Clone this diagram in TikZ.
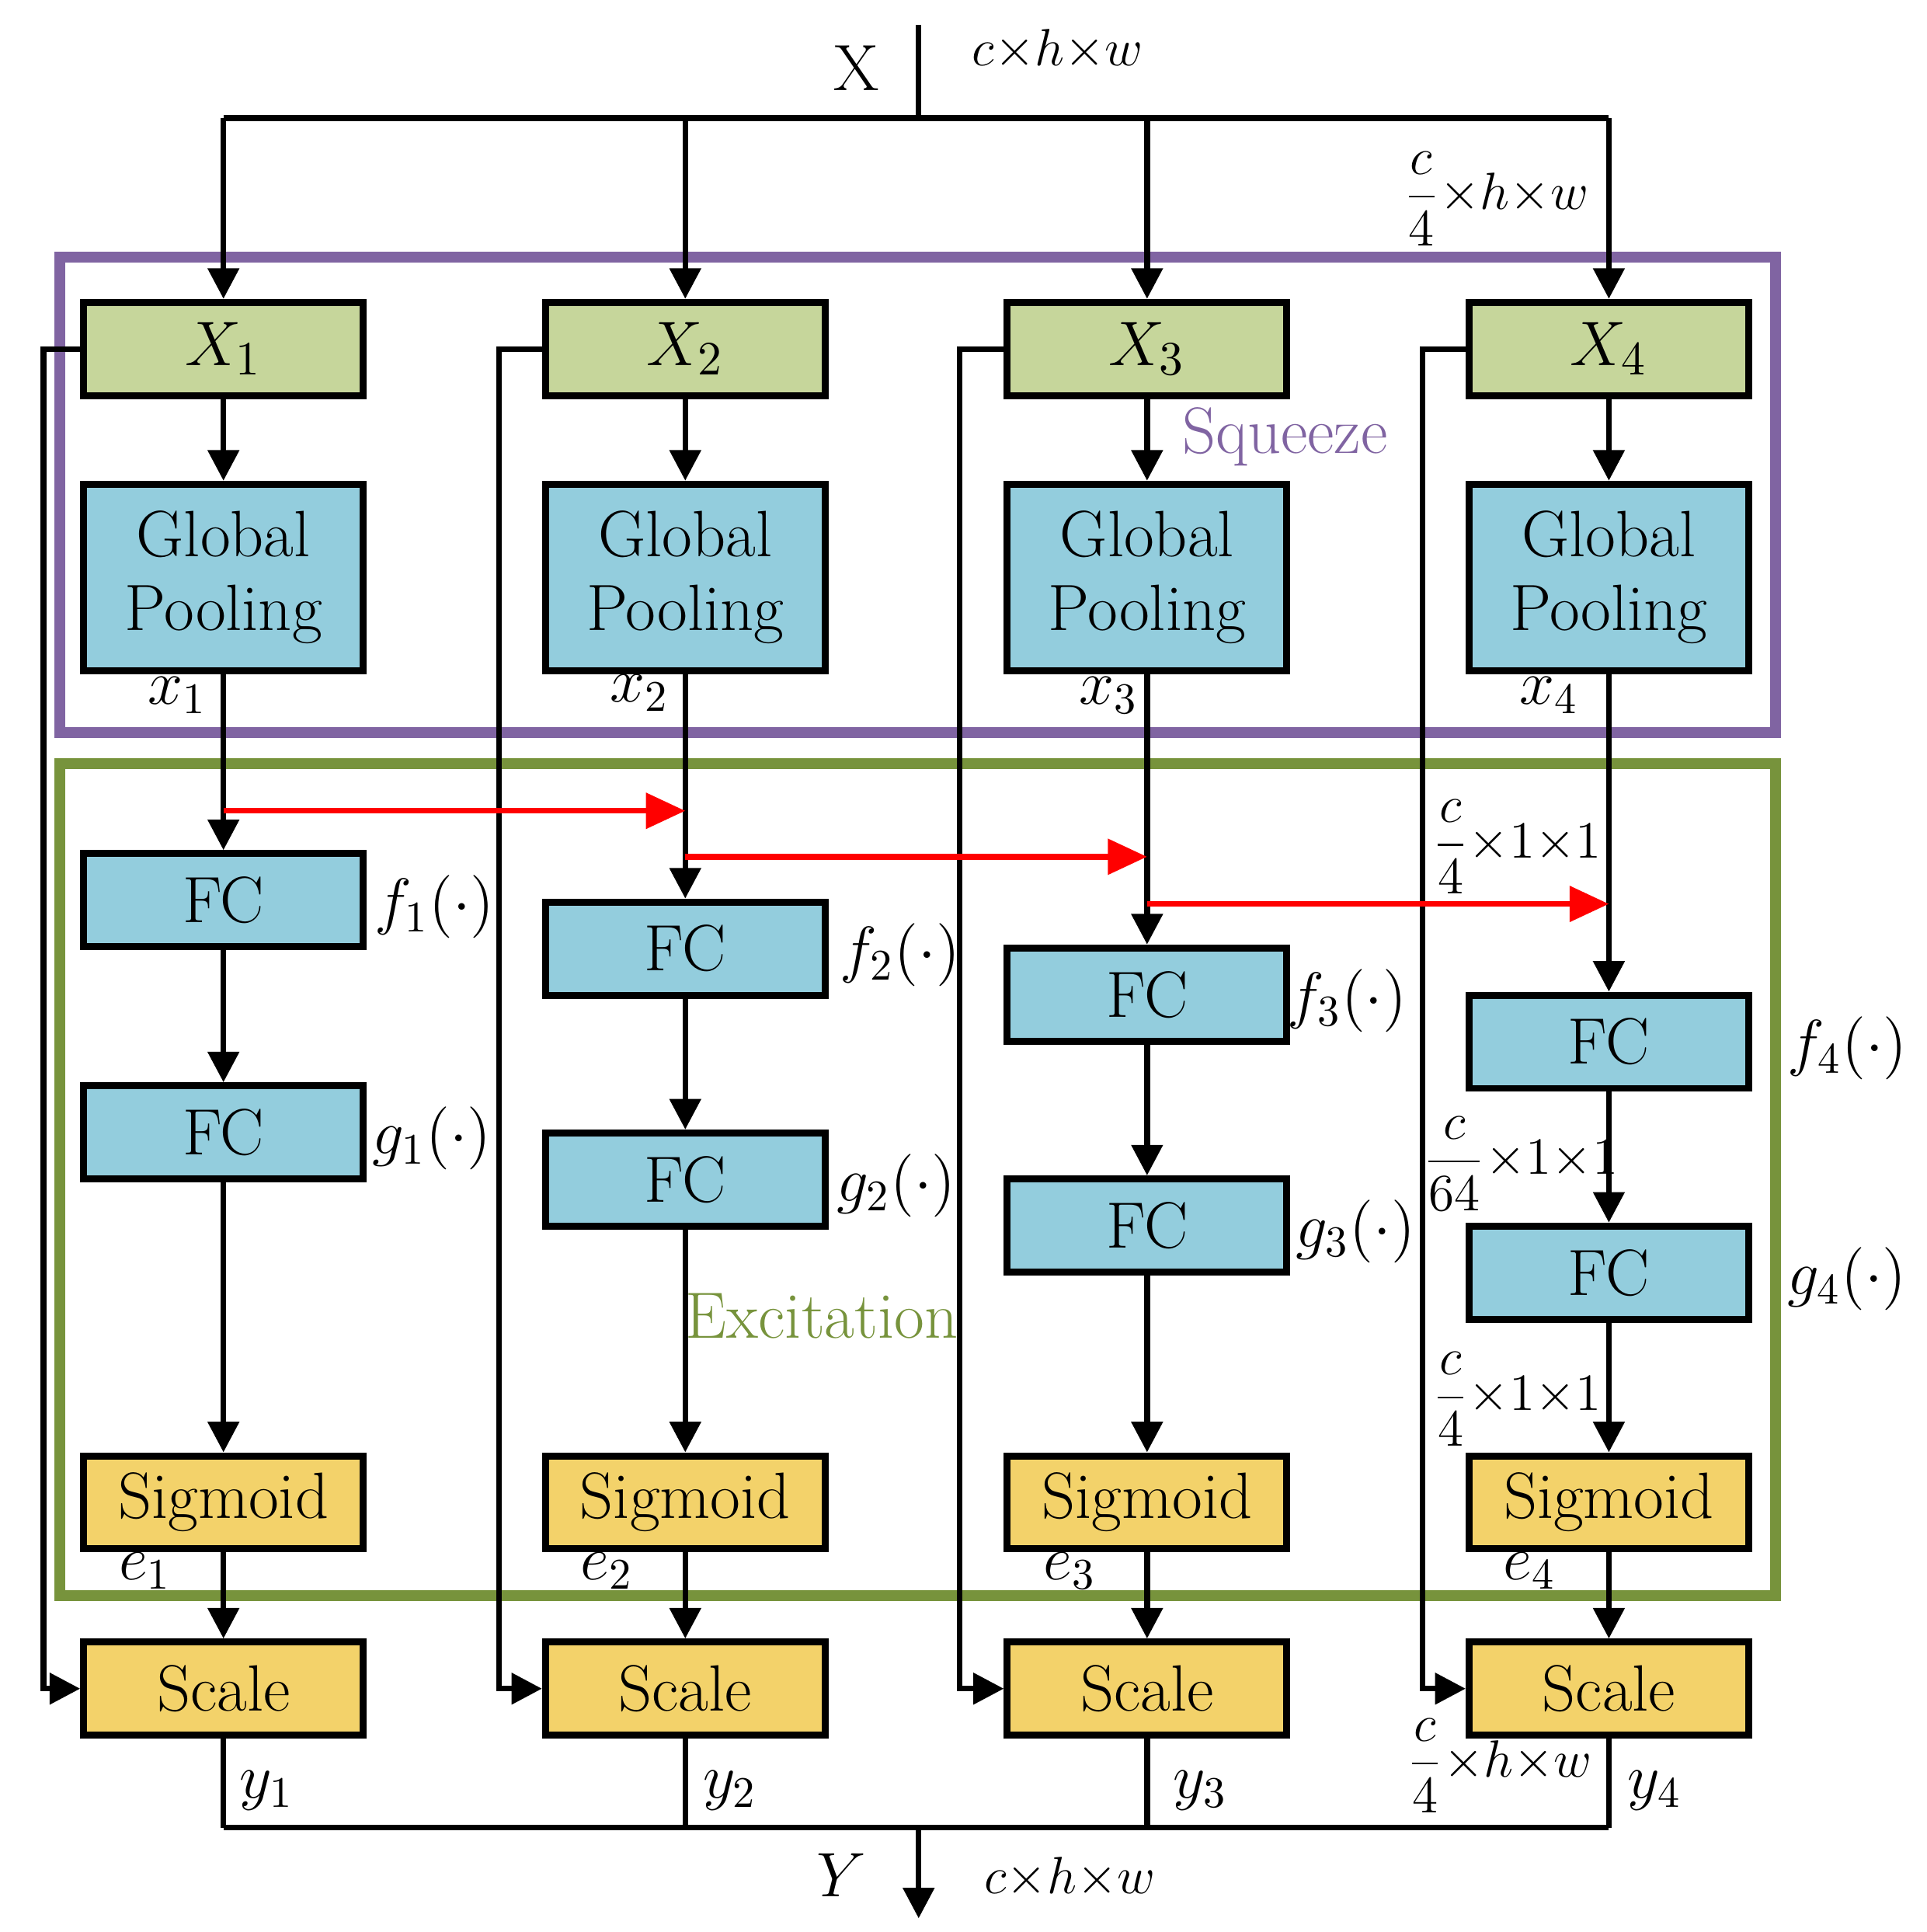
\documentclass[tikz,border=0pt]{standalone}
\usetikzlibrary{arrows.meta}
\begin{document}
\begin{tikzpicture}[x=0.01cm,y=-0.01cm,
  font=\fontsize{15}{17}\selectfont,
  box/.style={draw=black,line width=1.6pt,minimum width=2.25cm,minimum height=0.75cm,inner sep=0pt,align=center},
  xb/.style={box,fill=xgreen},
  bb/.style={box,fill=pblue},
  yb/.style={box,fill=syell},
  ar/.style={line width=1.3pt,-{Triangle[length=7pt,width=7pt]}},
  ln/.style={line width=1.3pt},
  rar/.style={line width=1.3pt,red,-{Triangle[length=9pt,width=8pt]}},
  lab/.style={font=\fontsize{14}{16}\selectfont},
  dim/.style={font=\fontsize{13}{15}\selectfont,inner sep=1pt}]
\definecolor{xgreen}{HTML}{C6D69B}
\definecolor{pblue}{HTML}{93CDDD}
\definecolor{syell}{HTML}{F3D26A}
\definecolor{sqz}{HTML}{8064A2}
\definecolor{exc}{HTML}{77933C}
\path[use as bounding box] (0,0) rectangle (1552,1556);
% frames
\draw[sqz,line width=2.5pt] (48,207) rectangle (1430,590);
\draw[exc,line width=2.5pt] (48,615) rectangle (1430,1285);
\node[sqz] at (1035,352) {Squeeze};
\node[exc] at (662,1060) {Excitation};
% top
\coordinate (xtop) at (740,20);
\coordinate (xsplit) at (740,95);
\draw[ln] (xtop) -- (xsplit);
\node at (690,55) {X};
\node[dim] at (852,40) {$c{\times}h{\times}w$};
\node[dim] at (1205,160) {$\displaystyle\frac{c}{4}{\times}h{\times}w$};
\draw[ln] (180,95) -- (1296,95);
% columns
\foreach \i/\cx/\fa/\fb/\sk/\fl/\gl in {1/180/725/912/35/350/348, 2/552/764/950/402/725/722, 3/924/801/987/773/1085/1092, 4/1296/839/1025/1146/1488/1488}{
  \node[xb] (X\i) at (\cx,281) {$X_{\scriptstyle\i}$};
  \node[bb,minimum height=1.5cm] (G\i) at (\cx,465) {Global\\Pooling};
  \node[bb] (F\i) at (\cx,\fa) {FC};
  \node[bb] (H\i) at (\cx,\fb) {FC};
  \node[yb] (S\i) at (\cx,1210) {Sigmoid};
  \node[yb] (C\i) at (\cx,1360) {Scale};
  \draw[ar] (\cx,95) -- (X\i);
  \draw[ar] (X\i) -- (G\i);
  \draw[ar] (G\i) -- (F\i);
  \draw[ar] (F\i) -- (H\i);
  \draw[ar] (H\i) -- (S\i);
  \draw[ar] (S\i) -- (C\i);
  \coordinate (k\i) at (\sk,281);
  \coordinate (kb\i) at (\sk,1360);
  \draw[ar] (X\i.west) -- (k\i) -- (kb\i) -- (C\i.west);
  \draw[ln] (C\i.south) -- (\cx,1472);
  \node[lab] at (\fl,\fa+5) {$f_{\scriptstyle\i}(\cdot)$};
  \node[lab] at (\gl,\fb+5) {$g_{\scriptstyle\i}(\cdot)$};
}
\node[lab] at (143,560) {$x_{\scriptstyle 1}$};
\node[lab] at (515,558) {$x_{\scriptstyle 2}$};
\node[lab] at (893,560) {$x_{\scriptstyle 3}$};
\node[lab] at (1248,560) {$x_{\scriptstyle 4}$};
\foreach \i/\ex/\yx in {1/117/215,2/489/588,3/862/967,4/1232/1333}{
  \node[lab] at (\ex,1265) {$e_{\scriptstyle\i}$};
  \node[lab] at (\yx,1442) {$y_{\scriptstyle\i}$};
}
% red arrows
\coordinate (r1) at (180,653); \coordinate (r1e) at (552,653);
\coordinate (r2) at (552,690); \coordinate (r2e) at (924,690);
\coordinate (r3) at (924,728); \coordinate (r3e) at (1296,728);
\draw[rar] (r1) -- (r1e);
\draw[rar] (r2) -- (r2e);
\draw[rar] (r3) -- (r3e);
% dims
\node[dim] at (1222,682) {$\displaystyle\frac{c}{4}{\times}1{\times}1$};
\node[dim] at (1225,937) {$\displaystyle\frac{c}{64}{\times}1{\times}1$};
\node[dim] at (1222,1127) {$\displaystyle\frac{c}{4}{\times}1{\times}1$};
\node[dim] at (1208,1422) {$\displaystyle\frac{c}{4}{\times}h{\times}w$};
% bottom
\draw[ln] (180,1472) -- (1296,1472);
\coordinate (ysplit) at (740,1472);
\coordinate (ybot) at (740,1545);
\draw[ar] (ysplit) -- (ybot);
\node[lab] at (678,1510) {$Y$};
\node[dim] at (862,1512) {$c{\times}h{\times}w$};
\end{tikzpicture}
\end{document}
